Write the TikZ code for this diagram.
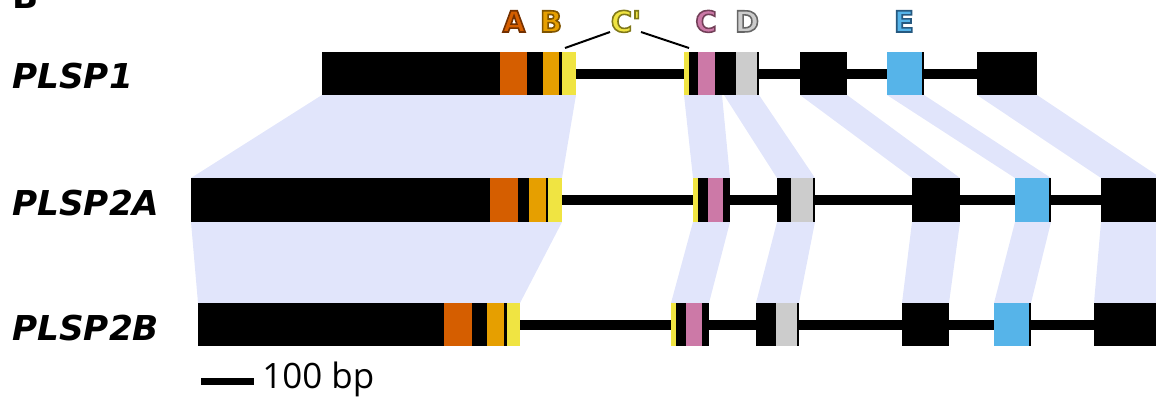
\documentclass[tikz,border=0pt]{standalone}
\usepackage{fontspec}
\setmainfont{DejaVu Sans}
\newfontfamily\barfont{Open Sans}
\newfontfamily\regionfont{DejaVu Sans}[Ligatures=TeXOff]
\definecolor{exA}{HTML}{D55E00}
\definecolor{exB}{HTML}{E69F00}
\definecolor{exY}{HTML}{F0E442}
\definecolor{exC}{HTML}{CC79A7}
\definecolor{exD}{HTML}{CCCCCC}
\definecolor{exE}{HTML}{56B4E9}
\definecolor{band}{HTML}{E1E5FB}
% coloured letter with a darker outline (text render mode 2)
\newcommand{\regionlabel}[3]{\textcolor{#1}{\special{pdf:literal direct #2 RG 0.9 w 2 Tr}#3\special{pdf:literal direct 0 Tr}}}
\begin{document}
\begin{tikzpicture}[
            x=0.02cm, y=-0.02cm,
            declare function={
                TopA = 52;  BotA = 95;  MidA = 73.5;
                TopB = 178; BotB = 222; MidB = 200;
                TopC = 303; BotC = 346; MidC = 324.5;
            },
            gene/.style={anchor=base west, inner sep=0pt, font=\fontsize{19.5}{19.5}\selectfont\bfseries\itshape},
            region/.style={anchor=base, inner sep=0pt, font=\fontsize{16.6}{16.6}\selectfont\regionfont\bfseries},
            intron/.style={line width=0.2cm}
        ]
            \clip (0, 0) rectangle (1156, 397);
            \useasboundingbox (0, 0) rectangle (1156, 397);

            % panel letter
            \node[anchor=base west, inner sep=0pt, font=\fontsize{19.5}{19.5}\selectfont\bfseries] (panel) at (12, 8) {B};

            % homology bands
            \foreach \a/\b/\c/\d in {322/576/191/562, 684/722/693/730, 724/759/777/815,
                                     800/847/912/960, 887/924/1015/1051, 977/1037/1101/1161} {
                \fill[band] (\a, BotA) -- (\b, BotA) -- (\d, TopB) -- (\c, TopB) -- cycle;
            }
            \foreach \a/\b/\c/\d in {191/562/198/520, 693/730/671/709, 777/815/756/799,
                                     912/960/902/949, 1015/1051/994/1031, 1101/1170/1094/1170} {
                \fill[band] (\a, BotB) -- (\b, BotB) -- (\d, TopC) -- (\c, TopC) -- cycle;
            }

            % introns
            \draw[intron] (570, MidA) -- (980, MidA);
            \draw[intron] (555, MidB) -- (1105, MidB);
            \draw[intron] (515, MidC) -- (1100, MidC);

            % exons
            \foreach \a/\b/\c in {322/500/black, 500/527/exA, 527/543/black, 543/559/exB, 559/562/black, 562/576/exY,
                                  684/689/exY, 689/698/black, 698/715/exC, 715/736/black, 736/757/exD, 757/759/black,
                                  800/847/black, 887/922/exE, 922/924/black, 977/1037/black} {
                \fill[\c] (\a, TopA) rectangle (\b, BotA);
            }
            \foreach \a/\b/\c in {191/490/black, 490/518/exA, 518/529/black, 529/546/exB, 546/548/black, 548/562/exY,
                                  693/698/exY, 698/708/black, 708/723/exC, 723/730/black,
                                  777/791/black, 791/813/exD, 813/815/black,
                                  912/960/black, 1015/1049/exE, 1049/1051/black, 1101/1170/black} {
                \fill[\c] (\a, TopB) rectangle (\b, BotB);
            }
            \foreach \a/\b/\c in {198/444/black, 444/472/exA, 472/487/black, 487/504/exB, 504/507/black, 507/520/exY,
                                  671/676/exY, 676/686/black, 686/702/exC, 702/709/black,
                                  756/776/black, 776/797/exD, 797/799/black,
                                  902/949/black, 994/1029/exE, 1029/1031/black, 1094/1170/black} {
                \fill[\c] (\a, TopC) rectangle (\b, BotC);
            }

            % gene names
            \node[gene] (plsp1) at (12, 88) {PLSP1};
            \node[gene] (plsp2a) at (12, 215) {PLSP2A};
            \node[gene] (plsp2b) at (12, 340) {PLSP2B};

            % region letters
            \node[region] (regA) at (514, 32) {\regionlabel{exA}{0.45 0.19 0}{A}};
            \node[region] (regB) at (551, 32) {\regionlabel{exB}{0.5 0.33 0}{B}};
            \node[region] (regCp) at (626, 32) {\regionlabel{exY}{0.5 0.47 0.1}{C'}};
            \node[region] (regC) at (706, 32) {\regionlabel{exC}{0.45 0.25 0.35}{C}};
            \node[region] (regD) at (747, 32) {\regionlabel{exD}{0.4 0.4 0.4}{D}};
            \node[region] (regE) at (904, 32) {\regionlabel{exE}{0.15 0.35 0.5}{E}};

            \coordinate (cpL) at (565, 48);
            \coordinate (cpR) at (689, 48);
            \draw[line width=0.04cm] (cpL) -- (610, 32);
            \draw[line width=0.04cm] (641, 32) -- (cpR);

            % scale bar
            \coordinate (barL) at (201, 381);
            \coordinate (barR) at (254, 381);
            \draw[line width=0.14cm] (barL) -- (barR);
            \node[anchor=base west, font=\fontsize{19.9}{19.9}\selectfont\barfont, inner sep=0pt] (bp) at (262, 388) {100 bp};
        \end{tikzpicture}
\end{document}
